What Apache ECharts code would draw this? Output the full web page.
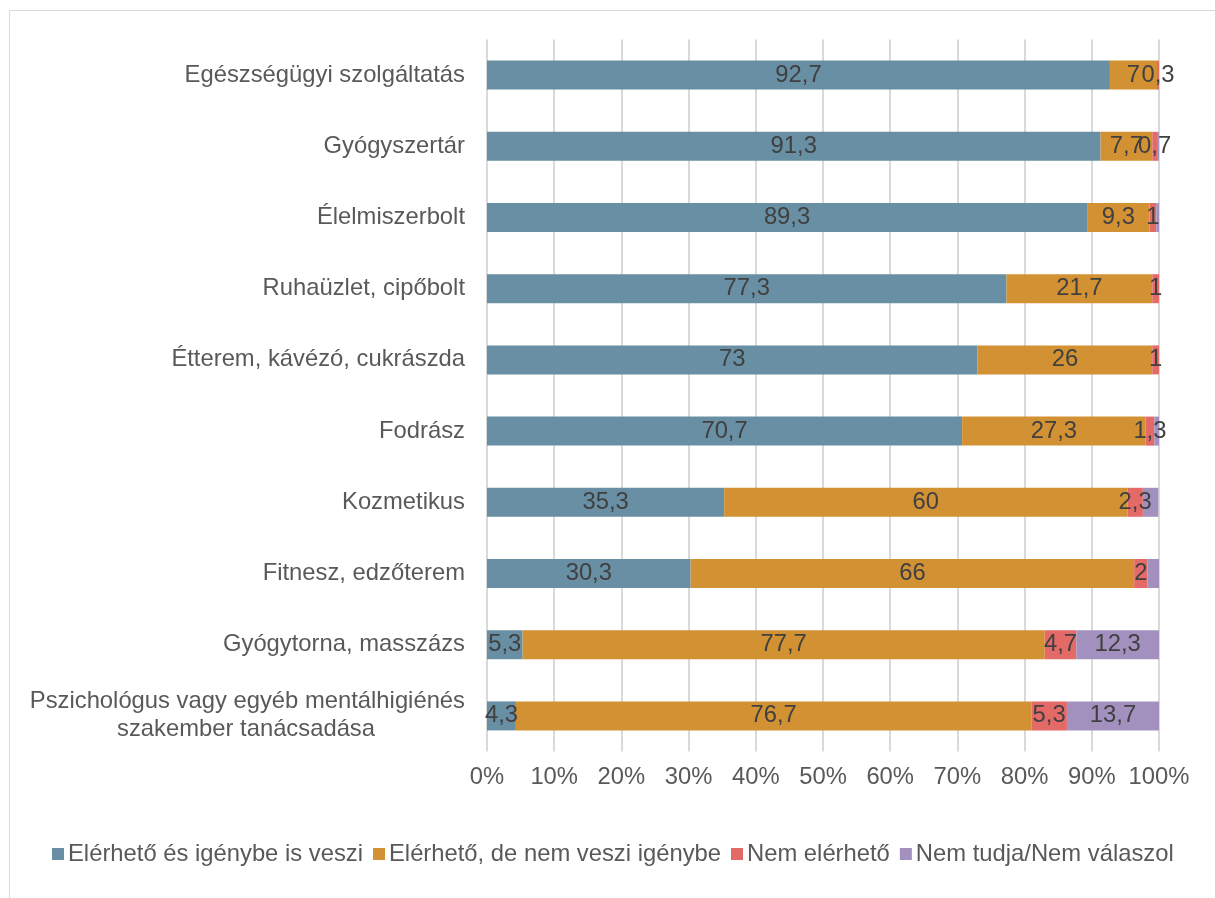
<!DOCTYPE html>
<html><head><meta charset="utf-8">
<script src="https://cdn.jsdelivr.net/npm/echarts@6/dist/echarts.min.js"></script>
<style>
html,body{margin:0;padding:0;background:#fff;}
#frame{position:absolute;left:9px;top:10px;width:1300px;height:1000px;border:1px solid #d9d9d9;box-sizing:border-box;}
#chart{position:absolute;left:0;top:0;width:1215px;height:898px;}
</style></head>
<body>
<div id="frame"></div>
<div id="chart"></div>
<script>
const categories = [
  'Egészségügyi szolgáltatás',
  'Gyógyszertár',
  'Élelmiszerbolt',
  'Ruhaüzlet, cipőbolt',
  'Étterem, kávézó, cukrászda',
  'Fodrász',
  'Kozmetikus',
  'Fitnesz, edzőterem',
  'Gyógytorna, masszázs',
  'Pszichológus vagy egyéb mentálhigiénés szakember tanácsadása'
];
const seriesNames = ['Elérhető és igénybe is veszi', 'Elérhető, de nem veszi igénybe', 'Nem elérhető', 'Nem tudja/Nem válaszol'];
const usedValues = [92.7, 91.3, 89.3, 77.3, 73, 70.7, 35.3, 30.3, 5.3, 4.3];
const notUsedValues = [7, 7.7, 9.3, 21.7, 26, 27.3, 60, 66, 77.7, 76.7];
const notAvailableValues = [0.3, 0.7, 1, 1, 1, 1.3, 2.3, 2, 4.7, 5.3];
const dontKnowValues = [0, 0.3, 0.4, 0, 0, 0.7, 2.3, 1.7, 12.3, 13.7];
const xTicks = [0, 10, 20, 30, 40, 50, 60, 70, 80, 90, 100];

const colors = ['#688FA3', '#D29133', '#E46A68', '#A291BE'];
const font = '"Liberation Sans", Arial, sans-serif';
const fs = 23.8;
const fmt = v => String(v).replace('.', ',');

const chart = echarts.init(document.getElementById('chart'), null, {renderer: 'canvas'});
const allData = [usedValues, notUsedValues, notAvailableValues, dontKnowValues];
const thresholds = [0, 0, 0, 5];

const series = allData.map((arr, i) => ({
  name: seriesNames[i],
  type: 'bar',
  stack: 'total',
  barWidth: 29,
  itemStyle: {color: colors[i]},
  label: {
    show: true,
    position: 'inside',
    fontFamily: font,
    fontSize: fs,
    color: '#404040',
    formatter: p => (p.value > thresholds[i] ? fmt(p.value) : '')
  },
  data: arr
}));

chart.setOption({
  animation: false,
  backgroundColor: 'transparent',
  grid: {left: 487, right: 56, top: 39.5, bottom: 146.5, containLabel: false},
  legend: {
    left: 47, top: 837,
    itemWidth: 12, itemHeight: 12, itemGap: 10,
    icon: 'rect',
    textStyle: {fontFamily: font, fontSize: 23.8, color: '#595959', padding: [0, 0, 0, -1]},
    data: seriesNames
  },
  xAxis: {
    type: 'value', min: 0, max: 100, interval: 10,
    axisLine: {show: false}, axisTick: {show: false},
    splitLine: {lineStyle: {color: '#d9d9d9', width: 2}},
    axisLabel: {formatter: v => xTicks.includes(v) ? v + '%' : '', fontFamily: font, fontSize: fs, color: '#595959', margin: 14}
  },
  yAxis: {
    type: 'category', inverse: true, data: categories,
    axisLine: {show: false}, axisTick: {show: false},
    axisLabel: {
      fontFamily: font, fontSize: fs, color: '#595959', margin: 22,
      formatter: v => {
        if (v.startsWith('Pszichológus')) {
          return '{a|Pszichológus vagy egyéb mentálhigiénés}\n{b|szakember tanácsadása}';
        }
        return v;
      },
      rich: {
        a: {fontFamily: font, fontSize: fs, color: '#595959', lineHeight: 28},
        b: {fontFamily: font, fontSize: fs, color: '#595959', lineHeight: 28, padding: [0, 90, 0, 0]}
      }
    }
  },
  series: series
});
</script>
</body></html>
